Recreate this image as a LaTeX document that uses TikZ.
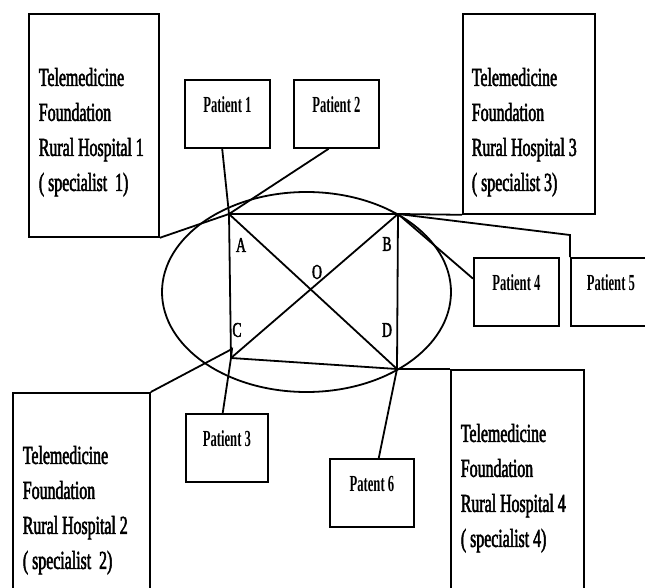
\documentclass[tikz,border=0pt]{standalone}
\usepackage{fontspec}
\usetikzlibrary{calc,shapes.geometric}
\newfontfamily\hospfont[FakeStretch=0.61,FakeBold=2]{Liberation Serif}
\newfontfamily\patfont[FakeStretch=0.55]{Liberation Serif Bold}
\newfontfamily\labfont[FakeStretch=0.65,FakeBold=2]{Liberation Serif}
\begin{document}
\begin{tikzpicture}[x=1pt,y=-1pt,line width=1.8pt,
  hbox/.style={draw,rectangle,inner sep=0pt,anchor=north west},
  htext/.style={inner sep=0pt,anchor=north west,align=left,
    font=\hospfont\fontsize{26pt}{35pt}\selectfont},
  pbox/.style={draw,rectangle,inner sep=0pt,anchor=north west,
    minimum width=85pt,minimum height=68pt,text height=33pt,text depth=35pt,
    font=\patfont\fontsize{23pt}{27pt}\selectfont},
  vlabel/.style={inner sep=0pt,font=\labfont\fontsize{21pt}{24pt}\selectfont},
  link/.style={draw,line width=1.8pt}]
\useasboundingbox (0,0) rectangle (645,588);
\fill[white] (0,0) rectangle (645,588);

% hospital boxes
\node[hbox,minimum width=130pt,minimum height=223pt] (h1) at (28,13) {};
\node[hbox,minimum width=132pt,minimum height=200pt] (h3) at (462,13) {};
\node[hbox,minimum width=137pt,minimum height=215pt] (h2) at (12,392) {};
\node[hbox,minimum width=133pt,minimum height=235pt] (h4) at (450,369) {};

\node[htext] (h1t) at (38,67) {Telemedicine\\Foundation\\Rural Hospital 1\\( specialist\ \ 1)};
\node[htext] (h3t) at (471,67) {Telemedicine\\Foundation\\Rural Hospital 3\\( specialist 3)};
\node[htext] (h2t) at (22,445) {Telemedicine\\Foundation\\Rural Hospital 2\\( specialist\ \ 2)};
\node[htext] (h4t) at (460,423) {Telemedicine\\Foundation\\Rural Hospital 4\\( specialist 4)};

% patient boxes
\node[pbox] (p1) at (184,79) {Patient 1};
\node[pbox] (p2) at (293,79) {Patient 2};
\node[pbox,minimum width=82pt] (p3) at (185,413) {Patient 3};
\node[pbox] (p4) at (473,257) {Patient 4};
\node[pbox,minimum width=80pt] (p5) at (570,257) {Patient 5};
\node[pbox,minimum width=84pt] (p6) at (329,458) {Patent 6};

% network ring
\node[draw,ellipse,minimum width=289pt,minimum height=200pt,inner sep=0pt] (ring) at (306.5,292) {};

% corners of the inner square
\coordinate (A) at (229,214);
\coordinate (B) at (398,214);
\coordinate (C) at (231,358);
\coordinate (D) at (397,369);
\coordinate (Ctick) at (232,349);
\coordinate (p5bend) at (570,235);

\node[vlabel] (la) at (241,245) {A};
\node[vlabel] (lb) at (387,244) {B};
\node[vlabel] (lc) at (237,330) {C};
\node[vlabel] (ld) at (387,330) {D};
\node[vlabel] (lo) at (317,272) {O};

% square and diagonals
\draw[link] (A) -- (B) -- (D) -- (C) -- cycle;
\draw[link] (A) -- (D);
\draw[link] (B) -- (C);

% links to hospitals and patients
\draw[link] (h1.south east) -- (A);
\draw[link] ($(p1.south west)!0.44!(p1.south east)$) -- (A);
\draw[link] ($(p2.south west)!0.41!(p2.south east)$) -- (A);
\draw[link] (B) -- (h3.south west);
\draw[link] (B) -- ($(p4.north west)!0.31!(p4.south west)$);
\draw[link] (B) -- (p5bend) -- (p5.north west);
\draw[link] (h2.north east) -- (Ctick) -- (C);
\draw[link] ($(p3.north west)!0.45!(p3.north east)$) -- (C);
\draw[link] ($(p6.north west)!0.58!(p6.north east)$) -- (D);
\draw[link] (D) -- (h4.north west);
\end{tikzpicture}
\end{document}
